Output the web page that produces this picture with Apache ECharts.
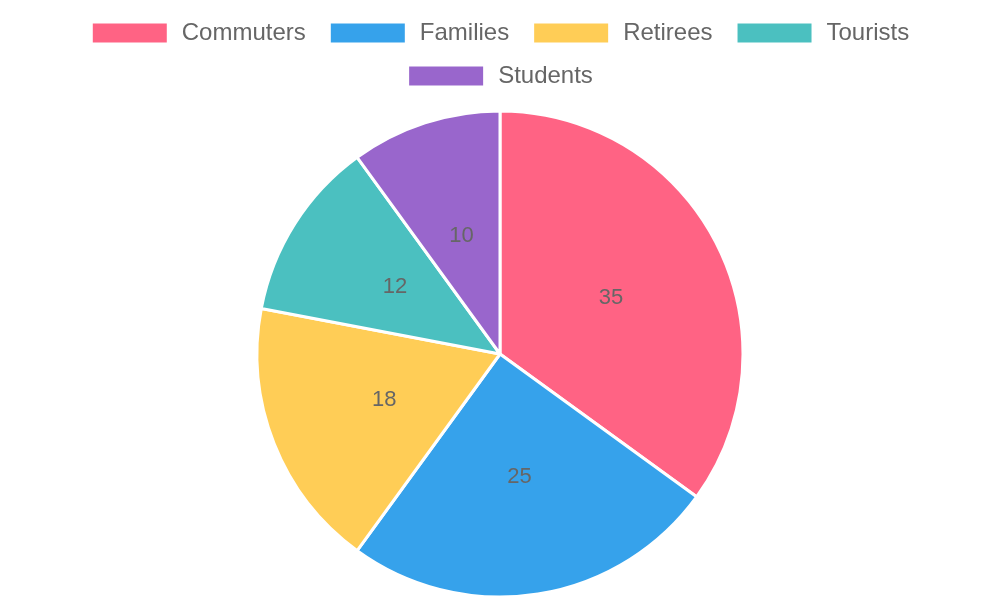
<!DOCTYPE html>
<html>
<head>
<meta charset="utf-8">
<script src="https://cdn.jsdelivr.net/npm/echarts@6/dist/echarts.min.js"></script>
<style>
  html, body { margin: 0; padding: 0; background: #fff; }
  #chart { width: 1000px; height: 600px; }
</style>
</head>
<body>
<div id="chart"></div>
<script>
  const categories = ['Commuters', 'Families', 'Retirees', 'Tourists', 'Students'];
  const values = [35, 25, 18, 12, 10];
  const colors = ['#ff6384', '#36a2eb', '#ffcd56', '#4bc0c0', '#9966cc'];

  const chart = echarts.init(document.getElementById('chart'));

  const legendBase = {
    orient: 'horizontal',
    left: 'center',
    itemWidth: 76,
    itemHeight: 21,
    itemGap: 23,
    icon: 'rect',
    textStyle: {
      color: '#666',
      fontSize: 24,
      lineHeight: 20,
      fontFamily: 'Liberation Sans, Arial, sans-serif',
      padding: [0, 0, 0, 9]
    }
  };

  const option = {
    color: colors,
    animation: false,
    legend: [
      Object.assign({}, legendBase, { top: 16, data: categories.slice(0, 4) }),
      Object.assign({}, legendBase, { top: 59, data: categories.slice(4) })
    ],
    series: [{
      type: 'pie',
      center: [500, 354],
      radius: [0, 243],
      startAngle: 90,
      clockwise: true,
      itemStyle: {
        borderColor: '#fff',
        borderWidth: 3
      },
      label: {
        show: true,
        position: 'inside',
        formatter: '{c}',
        color: '#666',
        fontSize: 22,
        fontFamily: 'Liberation Sans, Arial, sans-serif'
      },
      labelLine: { show: false },
      emphasis: { scale: false },
      data: categories.map((name, i) => ({ name: name, value: values[i] }))
    }]
  };

  chart.setOption(option);
</script>
</body>
</html>
